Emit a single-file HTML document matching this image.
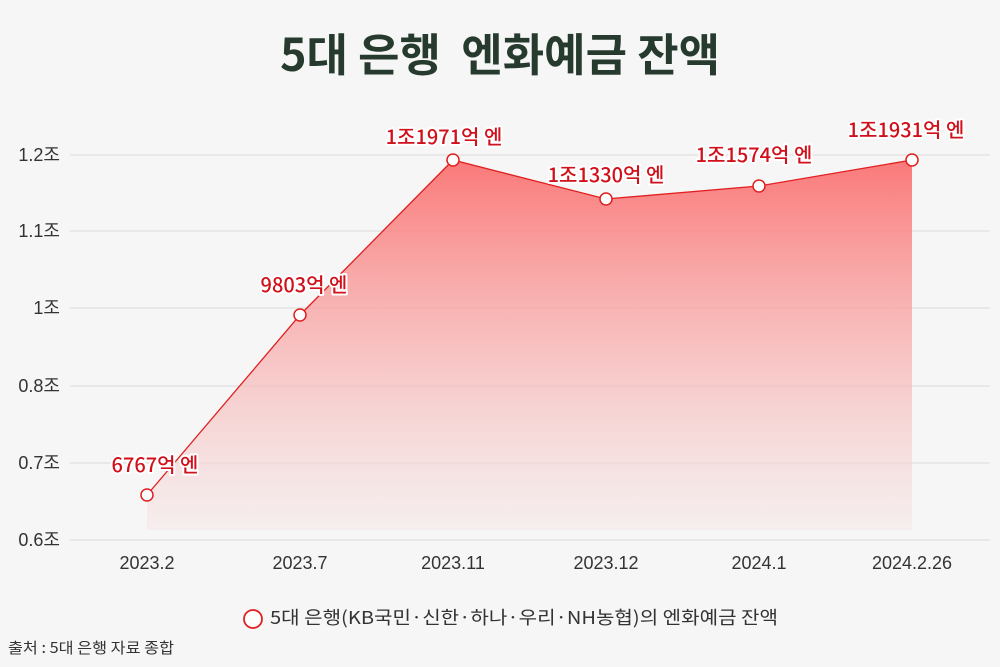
<!DOCTYPE html><html><head><meta charset="utf-8"><style>
body{margin:0;width:1000px;height:667px;background:#f6f6f6;overflow:hidden;font-family:"Liberation Sans","Noto Sans CJK KR",sans-serif}
</style></head><body>
<svg width="1000" height="667" xmlns="http://www.w3.org/2000/svg" style="position:absolute;left:0;top:0">
<defs><linearGradient id="g" x1="0" y1="0" x2="0" y2="1"><stop offset="0" stop-color="#fb6e6e" stop-opacity="0.92"/><stop offset="1" stop-color="#f6e6e6" stop-opacity="0.5"/></linearGradient></defs>
<text x="500" y="71" text-anchor="middle" font-family="Noto Sans CJK KR,sans-serif" font-size="45" font-weight="bold" fill="#263a2e">5대 은행&#160;&#160;엔화예금 잔액</text>
<g stroke="#dadada" stroke-width="1">
<line x1="70" x2="990" y1="155" y2="155"/><line x1="70" x2="990" y1="231" y2="231"/><line x1="70" x2="990" y1="308" y2="308"/><line x1="70" x2="990" y1="386" y2="386"/><line x1="70" x2="990" y1="463" y2="463"/><line x1="70" x2="990" y1="540" y2="540"/></g>
<g font-size="18" fill="#333" font-family="Liberation Sans,Noto Sans CJK KR,sans-serif" text-anchor="end">
<text x="60" y="161">1.2조</text><text x="60" y="237">1.1조</text><text x="60" y="314">1조</text><text x="60" y="392">0.8조</text><text x="60" y="469">0.7조</text><text x="60" y="546">0.6조</text></g>
<g font-size="18" fill="#333" text-anchor="middle">
<text x="147" y="569">2023.2</text><text x="300" y="569">2023.7</text><text x="453" y="569">2023.11</text><text x="606" y="569">2023.12</text><text x="759" y="569">2024.1</text><text x="912" y="569">2024.2.26</text></g>
<polygon points="147,495 300,315 453,160 606,199 759,186 912,160 912,530 147,530" fill="url(#g)"/>
<polyline points="147,495 300,315 453,160 606,199 759,186 912,160" fill="none" stroke="#e02020" stroke-width="1.3"/>
<g fill="#fff" stroke="#e02020" stroke-width="1.5">
<circle cx="147" cy="495" r="6"/><circle cx="300" cy="315" r="6"/><circle cx="453" cy="160" r="6"/><circle cx="606" cy="199" r="6"/><circle cx="759" cy="186" r="6"/><circle cx="912" cy="160" r="6"/></g>
<g font-size="20" font-family="Noto Sans CJK KR,sans-serif" font-weight="500" fill="#d0101a" stroke="#fff" stroke-width="4" paint-order="stroke" text-anchor="middle" stroke-linejoin="round">
<text x="155" y="472">6767억 엔</text><text x="304" y="292">9803억 엔</text><text x="444" y="144">1조1971억 엔</text><text x="606" y="182">1조1330억 엔</text><text x="754" y="162">1조1574억 엔</text><text x="906" y="137">1조1931억 엔</text></g>
<circle cx="253" cy="619" r="9" fill="#fff" stroke="#e02020" stroke-width="1.8"/>
<text x="270" y="624" font-size="18" font-family="Noto Sans CJK KR,sans-serif" fill="#333" textLength="508" lengthAdjust="spacingAndGlyphs">5대 은행(KB국민·신한·하나·우리·NH농협)의 엔화예금 잔액</text>
<text x="8" y="653" font-size="15" font-family="Noto Sans CJK KR,sans-serif" fill="#333" textLength="166" lengthAdjust="spacingAndGlyphs">출처 : 5대 은행 자료 종합</text>
</svg></body></html>
